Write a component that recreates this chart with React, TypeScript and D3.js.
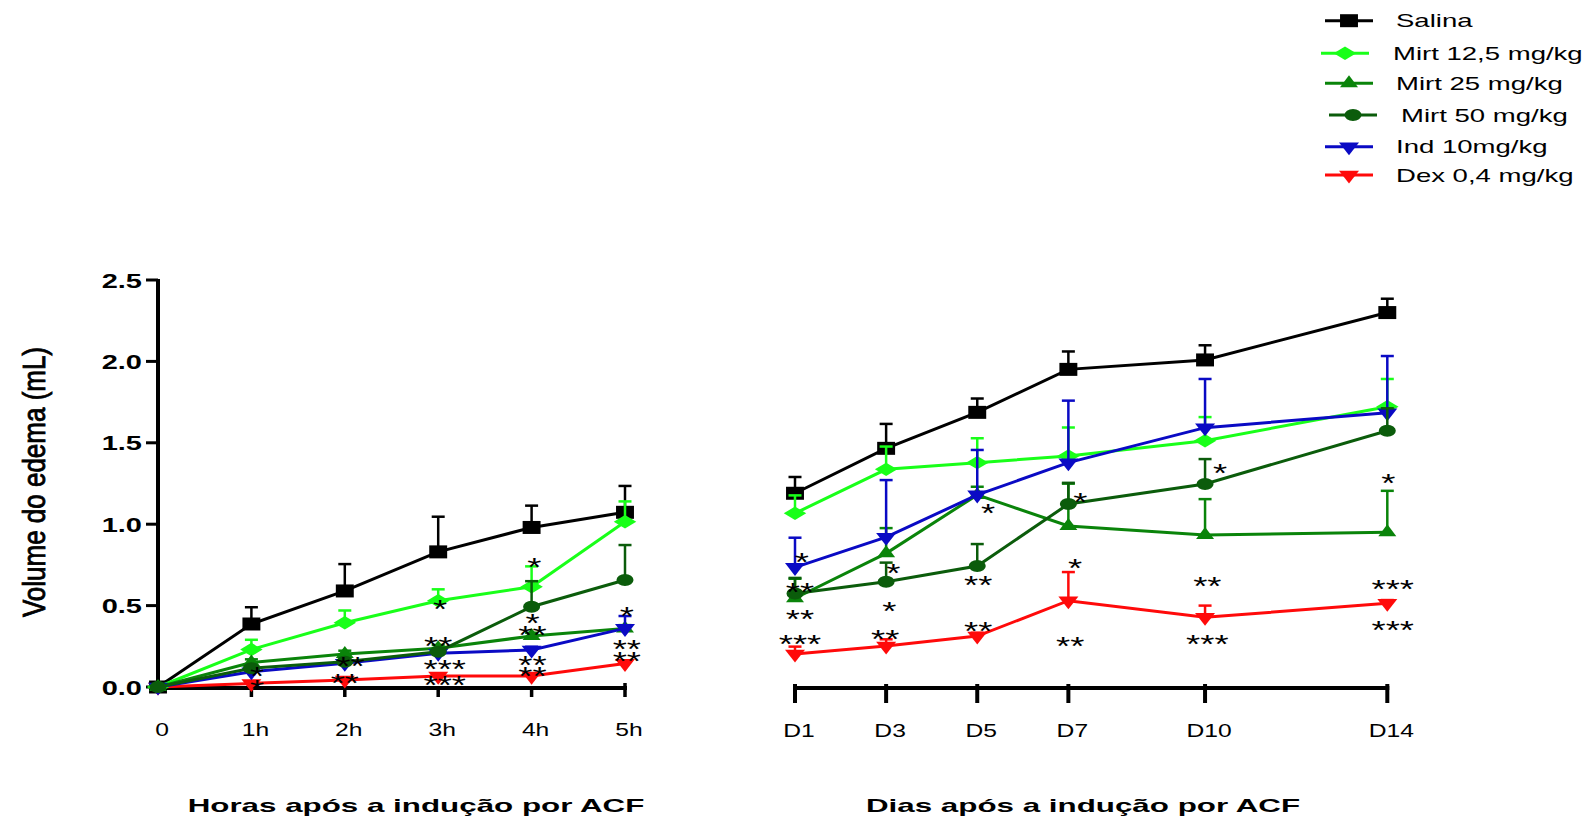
import React, { useEffect, useRef } from 'react';
import * as d3 from 'd3';

const W = 1595;
const H = 822;

const HOURS = [0, 1, 2, 3, 4, 5];
const HOUR_LABELS = ['0', '1h', '2h', '3h', '4h', '5h'];
const DAYS = [1, 3, 5, 7, 10, 14];
const DAY_LABELS = ['D1', 'D3', 'D5', 'D7', 'D10', 'D14'];

// means (mL) and SEM
const salinaHours = [0, 0.387, 0.59, 0.83, 0.98, 1.073];
const salinaHoursSem = [0, 0.103, 0.165, 0.216, 0.134, 0.162];
const salinaDays = [1.19, 1.466, 1.687, 1.951, 2.009, 2.3];
const salinaDaysSem = [0.1, 0.15, 0.085, 0.11, 0.09, 0.085];

const mirt12Hours = [0, 0.23, 0.395, 0.53, 0.616, 1.015];
const mirt12HoursSem = [0, 0.06, 0.075, 0.07, 0.125, 0.125];
const mirt12Days = [1.067, 1.337, 1.378, 1.419, 1.513, 1.722];
const mirt12DaysSem = [0.11, 0.14, 0.15, 0.175, 0.145, 0.17];

const mirt25Hours = [0, 0.15, 0.203, 0.238, 0.313, 0.36];
const mirt25HoursSem = [0, 0.02, 0.02, 0.02, 0.02, 0.02];
const mirt25Days = [0.545, 0.821, 1.18, 0.989, 0.934, 0.95];
const mirt25DaysSem = [0.12, 0.155, 0.05, 0.26, 0.22, 0.255];

const mirt50Hours = [0, 0.115, 0.155, 0.217, 0.493, 0.657];
const mirt50HoursSem = [0, 0.01, 0.01, 0.02, 0.157, 0.215];
const mirt50Days = [0.575, 0.647, 0.743, 1.124, 1.247, 1.574];
const mirt50DaysSem = [0.095, 0.117, 0.135, 0.13, 0.153, 0.138];

const indHours = [0, 0.094, 0.146, 0.207, 0.227, 0.36];
const indHoursSem = [0, 0.01, 0.01, 0.01, 0.02, 0.076];
const indDays = [0.735, 0.92, 1.18, 1.378, 1.593, 1.685];
const indDaysSem = [0.182, 0.351, 0.276, 0.381, 0.299, 0.348];

const dexHours = [0, 0.022, 0.043, 0.067, 0.067, 0.145];
const dexHoursSem = [0, 0.01, 0.01, 0.01, 0.01, 0.01];
const dexDays = [0.203, 0.252, 0.313, 0.53, 0.428, 0.514];
const dexDaysSem = [0.045, 0.041, 0.02, 0.176, 0.072, 0.02];

// significance marks: [x (hours / days), y (mL), text]
const hourStars: [number, number, string][] = [
  [1.06, 0.104, '*'], [1.06, 0.025, '*'],
  [2.06, 0.166, '**'], [2.0, 0.063, '**'],
  [3.02, 0.518, '*'], [3.0, 0.289, '**'], [3.07, 0.149, '***'], [3.07, 0.049, '***'],
  [4.03, 0.774, '*'], [4.01, 0.432, '*'], [4.01, 0.356, '**'], [4.01, 0.172, '**'], [4.01, 0.104, '**'],
  [5.02, 0.473, '*'], [5.02, 0.27, '**'], [5.02, 0.197, '**'],
];
const dayStars: [number, number, string][] = [
  [1.15, 0.805, '*'], [1.11, 0.62, '**'], [1.11, 0.453, '**'], [1.11, 0.299, '***'],
  [3.16, 0.735, '*'], [3.07, 0.504, '*'], [2.98, 0.33, '**'],
  [5.24, 1.107, '*'], [5.02, 0.662, '**'], [5.02, 0.381, '**'],
  [7.26, 1.173, '*'], [7.15, 0.77, '*'], [7.04, 0.289, '**'],
  [10.33, 1.35, '*'], [10.05, 0.657, '**'], [10.05, 0.299, '***'],
  [14.02, 1.292, '*'], [14.12, 0.641, '***'], [14.12, 0.387, '***'],
];

type Shape = 'square' | 'diamond' | 'triangle' | 'circle' | 'down';

const series = [
  { name: 'Salina', color: '#000000', shape: 'square' as Shape, h: salinaHours, hs: salinaHoursSem, d: salinaDays, ds: salinaDaysSem },
  { name: 'Mirt 12,5 mg/kg', color: '#19ff19', shape: 'diamond' as Shape, h: mirt12Hours, hs: mirt12HoursSem, d: mirt12Days, ds: mirt12DaysSem },
  { name: 'Mirt 25 mg/kg', color: '#0a840a', shape: 'triangle' as Shape, h: mirt25Hours, hs: mirt25HoursSem, d: mirt25Days, ds: mirt25DaysSem },
  { name: 'Mirt 50 mg/kg', color: '#0b5c0b', shape: 'circle' as Shape, h: mirt50Hours, hs: mirt50HoursSem, d: mirt50Days, ds: mirt50DaysSem },
  { name: 'Ind 10mg/kg', color: '#0a0ac4', shape: 'down' as Shape, h: indHours, hs: indHoursSem, d: indDays, ds: indDaysSem },
  { name: 'Dex 0,4 mg/kg', color: '#ff0a0a', shape: 'down' as Shape, h: dexHours, hs: dexHoursSem, d: dexDays, ds: dexDaysSem },
];
// order in which the groups are painted (last on top)
const drawOrder = [5, 0, 1, 2, 4, 3];

const FONT = '"Liberation Sans", Arial, sans-serif';

// symbol path + horizontal stretch, sized like the exported figure
const markerOf = (shape: Shape) => {
  switch (shape) {
    case 'square':
      return { path: d3.symbol(d3.symbolSquare, 169)()!, sx: 1.38, sy: 1 };
    case 'diamond':
      return { path: d3.symbol(d3.symbolDiamond, 52)()!, sx: 2.9, sy: 1 };
    case 'triangle':
      return { path: d3.symbol(d3.symbolTriangle, 83)()!, sx: 1.3, sy: 1 };
    case 'circle':
      return { path: d3.symbol(d3.symbolCircle, 113)()!, sx: 1.42, sy: 1 };
    default:
      return { path: d3.symbol(d3.symbolTriangle, 95)()!, sx: 1.35, sy: -1 };
  }
};

const App: React.FC = () => {
  const svgRef = useRef<SVGSVGElement>(null);

  useEffect(() => {
    if (!svgRef.current) return;
    const svg = d3.select(svgRef.current);
    svg.selectAll('*').remove();

    const y = d3.scaleLinear().domain([0, 2.5]).range([687, 280]);
    const xH = d3.scaleLinear().domain([0, 5]).range([158, 625]);
    const xD = d3.scaleLinear().domain([1, 14]).range([795, 1387.3]);

    // stretched text helper
    const label = (
      g: d3.Selection<SVGGElement, unknown, null, undefined>,
      x: number,
      yy: number,
      text: string,
      size: number,
      sx: number,
      anchor = 'middle',
      weight = 'normal',
    ) =>
      g
        .append('text')
        .attr('transform', `translate(${x},${yy}) scale(${sx},1)`)
        .attr('text-anchor', anchor)
        .attr('font-family', FONT)
        .attr('font-size', size)
        .attr('font-weight', weight)
        .attr('fill', '#000')
        .text(text);

    const axes = svg.append('g');

    // y axis
    axes
      .append('line')
      .attr('x1', 158).attr('x2', 158)
      .attr('y1', y(2.5) - 1).attr('y2', y(0) + 3)
      .attr('stroke', '#000').attr('stroke-width', 4);
    y.ticks(5).forEach((t) => {
      axes
        .append('line')
        .attr('x1', 146).attr('x2', 158)
        .attr('y1', y(t)).attr('y2', y(t))
        .attr('stroke', '#000').attr('stroke-width', 3);
      label(axes, 142, y(t) + 7.5, d3.format('.1f')(t), 20, 1.45, 'end', 'bold');
    });

    // left x axis
    axes
      .append('line')
      .attr('x1', 156).attr('x2', xH(5) + 2)
      .attr('y1', 688).attr('y2', 688)
      .attr('stroke', '#000').attr('stroke-width', 4);
    HOURS.forEach((h, i) => {
      if (h > 0) {
        axes
          .append('line')
          .attr('x1', xH(h)).attr('x2', xH(h))
          .attr('y1', h === 5 ? 683 : 688).attr('y2', 697)
          .attr('stroke', '#000').attr('stroke-width', 3.5);
      }
      label(axes, xH(h) + 4, 736, HOUR_LABELS[i], 18, 1.37);
    });

    // right x axis
    axes
      .append('line')
      .attr('x1', xD(1) - 2).attr('x2', xD(14) + 2)
      .attr('y1', 688).attr('y2', 688)
      .attr('stroke', '#000').attr('stroke-width', 4);
    DAYS.forEach((d, i) => {
      axes
        .append('line')
        .attr('x1', xD(d)).attr('x2', xD(d))
        .attr('y1', 684).attr('y2', 703)
        .attr('stroke', '#000').attr('stroke-width', 4);
      label(axes, xD(d) + 4, 737, DAY_LABELS[i], 18, 1.37);
    });

    // axis titles
    label(axes, 416, 812, 'Horas após a indução por ACF', 19, 1.65, 'middle', 'bold');
    label(axes, 1083, 812, 'Dias após a indução por ACF', 19, 1.65, 'middle', 'bold');
    axes
      .append('text')
      .attr('transform', 'translate(45,482) rotate(-90) scale(1,1.24)')
      .attr('text-anchor', 'middle')
      .attr('font-family', FONT)
      .attr('font-size', 26)
      .attr('fill', '#000')
      .attr('stroke', '#000')
      .attr('stroke-width', 0.7)
      .text('Volume do edema (mL)');

    // series
    const plot = svg.append('g');
    const panels = [
      { x: xH, xs: HOURS, key: 'h' as const, sem: 'hs' as const },
      { x: xD, xs: DAYS, key: 'd' as const, sem: 'ds' as const },
    ];

    drawOrder.forEach((si) => {
      const s = series[si];
      const m = markerOf(s.shape);
      panels.forEach((p) => {
        const vals = s[p.key];
        const sems = s[p.sem];
        const g = plot.append('g');
        // error bars (upper only)
        vals.forEach((v, i) => {
          if (!sems[i]) return;
          const cx = p.x(p.xs[i]);
          const top = y(v + sems[i]);
          g.append('line')
            .attr('x1', cx).attr('x2', cx)
            .attr('y1', y(v)).attr('y2', top)
            .attr('stroke', s.color).attr('stroke-width', 2.5);
          g.append('line')
            .attr('x1', cx - 6.5).attr('x2', cx + 6.5)
            .attr('y1', top).attr('y2', top)
            .attr('stroke', s.color).attr('stroke-width', 2.5);
        });
        const line = d3
          .line<number>()
          .x((_, i) => p.x(p.xs[i]))
          .y((v) => y(v));
        g.append('path')
          .attr('d', line(vals))
          .attr('fill', 'none')
          .attr('stroke', s.color)
          .attr('stroke-width', 3);
        g.selectAll('path.mk')
          .data(vals)
          .join('path')
          .attr('class', 'mk')
          .attr('d', m.path)
          .attr('transform', (v, i) => `translate(${p.x(p.xs[i])},${y(v)}) scale(${m.sx},${m.sy})`)
          .attr('fill', s.color);
      });
    });

    // significance marks
    const stars = svg.append('g');
    const starSize = 26;
    const drawStars = (list: [number, number, string][], x: d3.ScaleLinear<number, number>) =>
      list.forEach(([xv, yv, t]) => {
        label(stars, x(xv), y(yv) + starSize * 0.575, t, starSize, 1.4);
      });
    drawStars(hourStars, xH);
    drawStars(dayStars, xD);

    // legend
    const legend = svg.append('g');
    const rowY = [20.7, 53.3, 83.3, 115, 146.7, 175];
    const lineX: [number, number][] = [
      [1325, 1373], [1321, 1369], [1325, 1373], [1329, 1377], [1325, 1373], [1325, 1373],
    ];
    const textX = [1396, 1393, 1396, 1401, 1396, 1396];
    series.forEach((s, i) => {
      const m = markerOf(s.shape);
      const [a, b] = lineX[i];
      legend
        .append('line')
        .attr('x1', a).attr('x2', b)
        .attr('y1', rowY[i]).attr('y2', rowY[i])
        .attr('stroke', s.color).attr('stroke-width', 3);
      legend
        .append('path')
        .attr('d', m.path)
        .attr('transform', `translate(${(a + b) / 2},${rowY[i]}) scale(${m.sx},${m.sy})`)
        .attr('fill', s.color);
      label(legend, textX[i], rowY[i] + 6.5, s.name, 18, 1.53, 'start');
    });
  }, []);

  return (
    <div style={{ position: 'absolute', left: 0, top: 0, width: W, height: H, background: '#fff' }}>
      <svg ref={svgRef} width={W} height={H} style={{ display: 'block' }} />
    </div>
  );
};

export default App;
